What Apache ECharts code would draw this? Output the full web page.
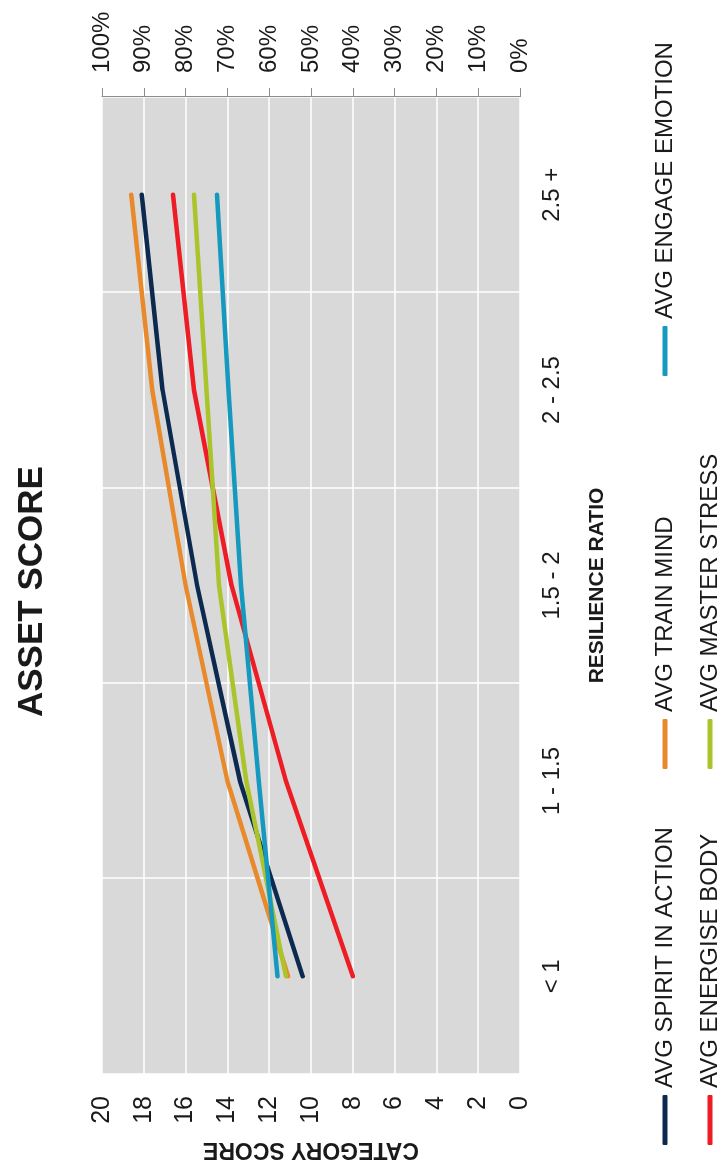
<!DOCTYPE html>
<html>
<head>
<meta charset="utf-8">
<script src="https://cdn.jsdelivr.net/npm/echarts@6/dist/echarts.min.js"></script>
<style>
html,body{margin:0;padding:0;width:724px;height:1169px;overflow:hidden;background:#fff;}
#wrap{position:absolute;left:0;top:0;width:1169px;height:724px;transform-origin:0 0;transform:translateY(1169px) rotate(-90deg);}
#chart{width:1169px;height:724px;}
</style>
</head>
<body>
<div id="wrap"><div id="chart"></div></div>
<script>
// Data
const categories = ['< 1', '1 - 1.5', '1.5 - 2', '2 - 2.5', '2.5 +'];
const spiritInAction = [10.4, 13.4, 15.45, 17.1, 18.1];
const energiseBody   = [8.0, 11.2, 13.8, 15.6, 16.6];
const trainMind      = [11.1, 14.0, 16.0, 17.6, 18.6];
const masterStress   = [11.2, 13.1, 14.4, 15.0, 15.6];
const engageEmotion  = [11.6, 12.5, 13.35, 13.95, 14.5];
const seriesNames = ['AVG SPIRIT IN ACTION', 'AVG ENERGISE BODY', 'AVG TRAIN MIND', 'AVG MASTER STRESS', 'AVG ENGAGE EMOTION'];
const seriesData = [spiritInAction, energiseBody, trainMind, masterStress, engageEmotion];
const seriesColors = ['#0c2a50', '#ee1c25', '#e8892b', '#a9c52b', '#1699bf'];
const scoreTicks = [0, 20, 2];
const pctTicks = [0, 1, 0.1];

const FONT = '"Liberation Sans", Arial, sans-serif';

const chart = echarts.init(document.getElementById('chart'), null, {renderer: 'canvas'});

// legend placement (original, un-rotated frame)
const legendPos = [
  {left: 24, top: 653},  // spirit
  {left: 24, top: 698},  // energise
  {left: 400, top: 653}, // train
  {left: 400, top: 698}, // master
  {left: 793, top: 653}  // engage
];

const option = {
  animation: false,
  backgroundColor: '#ffffff',
  title: {
    text: 'ASSET SCORE',
    left: 447, top: 10,
    textStyle: {fontFamily: FONT, fontWeight: 'bold', fontSize: 35, color: '#1a1a1a'}
  },
  legend: seriesNames.map((n, i) => ({
    data: [n],
    left: legendPos[i].left, top: legendPos[i].top,
    padding: 0,
    icon: 'roundRect',
    itemWidth: 50, itemHeight: 5,
    textStyle: {fontFamily: FONT, fontSize: 24, color: '#1a1a1a', padding: [0,0,0,2]}
  })),
  grid: {
    left: 92, right: 97, top: 102, bottom: 204,
    show: true, backgroundColor: '#d9d9d9', borderWidth: 0
  },
  xAxis: {
    type: 'category',
    data: categories,
    boundaryGap: true,
    axisLine: {show: false},
    axisTick: {show: false},
    splitLine: {show: true, lineStyle: {color: '#ffffff', width: 1.5}},
    axisLabel: {fontFamily: FONT, fontSize: 24, color: '#1a1a1a', margin: 20},
    name: 'RESILIENCE RATIO',
    nameLocation: 'middle',
    nameGap: 67,
    nameTextStyle: {fontFamily: FONT, fontWeight: 'bold', fontSize: 21, color: '#1a1a1a'}
  },
  yAxis: [
    {
      type: 'value', position: 'left',
      min: scoreTicks[0], max: scoreTicks[1], interval: scoreTicks[2],
      axisLine: {show: false}, axisTick: {show: false},
      splitLine: {show: true, lineStyle: {color: '#ffffff', width: 1.5}},
      axisLabel: {fontFamily: FONT, fontSize: 25, color: '#1a1a1a', margin: 22},
      name: 'CATEGORY SCORE',
      nameLocation: 'middle', nameRotate: 90, nameGap: 64,
      nameTextStyle: {fontFamily: FONT, fontWeight: 'bold', fontSize: 23, color: '#1a1a1a'}
    },
    {
      type: 'value', position: 'right',
      min: pctTicks[0], max: pctTicks[1], interval: pctTicks[2],
      axisLine: {show: true, lineStyle: {color: '#8c8c8c', width: 1}},
      axisTick: {show: true, length: 9, inside: false, lineStyle: {color: '#8c8c8c'}},
      splitLine: {show: false},
      axisLabel: {fontFamily: FONT, fontSize: 24, color: '#1a1a1a', margin: 24,
        formatter: v => Math.round(v * 100) + '%'}
    }
  ],
  series: seriesNames.map((n, i) => ({
    name: n,
    type: 'line',
    yAxisIndex: 0,
    data: seriesData[i],
    symbol: 'none',
    smooth: false,
    color: seriesColors[i],
    lineStyle: {width: 4.5, color: seriesColors[i], cap: 'round', join: 'round'},
    itemStyle: {color: seriesColors[i]}
  }))
};
chart.setOption(option);
</script>
</body>
</html>
